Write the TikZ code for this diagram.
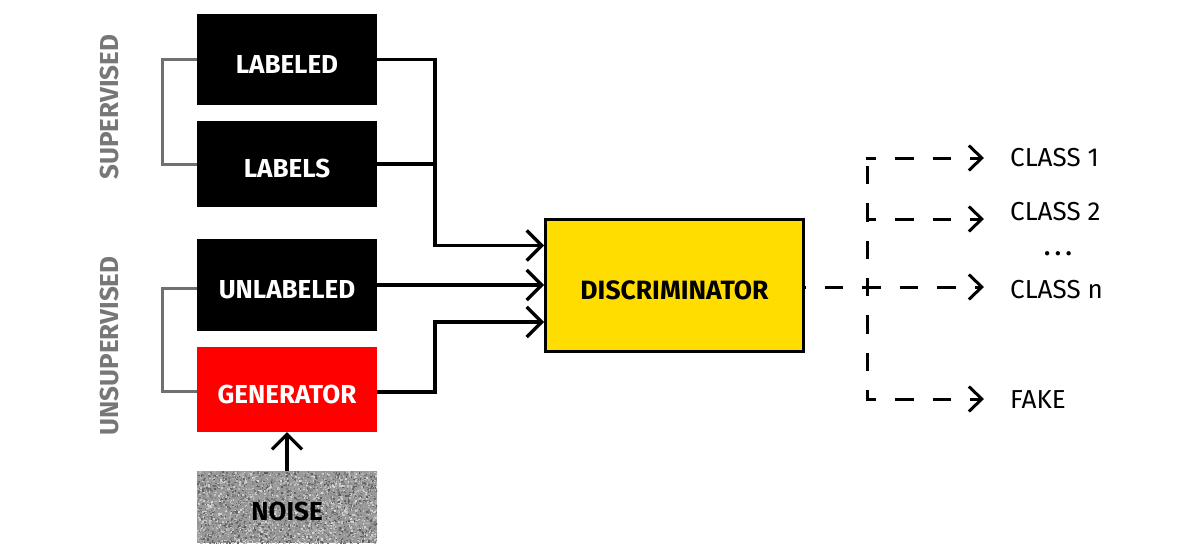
\documentclass[tikz,border=0pt]{standalone}
\usepackage{fontspec}
\setmainfont{Fira Sans}
\usetikzlibrary{arrows.meta}
\definecolor{discyellow}{HTML}{FFDD00}
\definecolor{genred}{HTML}{FF0000}
\definecolor{brackgray}{HTML}{707070}
\definecolor{labgray}{HTML}{777777}
\definecolor{noisegray}{HTML}{999999}
\begin{document}
\begin{tikzpicture}[x=1pt,y=-1pt,
  box/.style={minimum width=180pt,minimum height=#1,inner sep=0pt,text height=27pt,text depth=0pt,
              font=\bfseries\fontsize{26}{26}\selectfont},
  box/.default=91pt,
  conn/.style={line width=3.2pt},
  arr/.style={conn,-{Straight Barb[length=15pt,width=30pt,line width=3.2pt]}},
  bracket/.style={line width=3pt,draw=brackgray},
  dline/.style={line width=3pt,dash pattern=on 18.5pt off 19pt},
  darr/.style={dline,-{Straight Barb[length=13pt,width=25pt,line width=3pt]}},
  outtext/.style={anchor=west,inner sep=0pt,font=\fontsize{26}{26}\selectfont},
  sidetext/.style={rotate=90,text=labgray,font=\bfseries\fontsize{26}{26}\selectfont}
]
\useasboundingbox (0,0) rectangle (1200,557);

% input boxes
\node[box=91pt,fill=black,text=white] (labeled) at (287,59.5) {LABELED};
\node[box=86pt,fill=black,text=white] (labels) at (287,164) {LABELS};
\node[box=92pt,fill=black,text=white] (unlabeled) at (287,285) {UNLABELED};
\node[box=85pt,fill=genred,text=white] (generator) at (287,389.5) {GENERATOR};
\node[box=72pt,fill=noisegray] (noise) at (287,507) {};
\begin{scope}
  \clip (noise.south west) rectangle (noise.north east);
  \pgfmathsetseed{42}
  \foreach \i in {1,...,3600}{
    \pgfmathsetmacro\px{197+180*rnd}
    \pgfmathsetmacro\py{471+72*rnd}
    \pgfmathsetmacro\g{15+50*rnd}
    \fill[black!\g] (\px,\py) rectangle ++(1.6,1.6);
  }
\end{scope}
\node[box=72pt,text=black] (noiselabel) at (noise) {NOISE};

% discriminator
\node[minimum width=258pt,minimum height=132pt,inner sep=0pt,fill=discyellow,draw=black,line width=3pt,
      text height=27pt,text depth=0pt,
      font=\bfseries\fontsize{26.5}{26.5}\selectfont] (disc) at (674.5,285.5) {DISCRIMINATOR};

% side labels
\node[sidetext] (sup) at (109,107) {SUPERVISED};
\node[sidetext] (unsup) at (109,346) {UNSUPERVISED};

% brackets
\draw[bracket] (labeled.west) -- ++(-34,0) |- (labels.west);
\draw[bracket] ([yshift=-3pt]unlabeled.west) -- ++(-34,0) |- ([yshift=-1.5pt]generator.west);

% connectors into discriminator
\coordinate (j1) at (435,245.5);
\coordinate (j2) at (435,322);
\draw[conn] (labels.east) -| (j1);
\draw[arr] (labeled.east) -| (j1) -- ([yshift=40pt]disc.west);
\draw[arr] (unlabeled.east) -- (unlabeled.east -| disc.west);
\draw[arr] ([yshift=-2.5pt]generator.east) -| (j2) -- (j2 -| disc.west);
\draw[arr] (noise.north) -- (generator.south);

% outputs
\node[outtext] (c1) at (1010,158) {CLASS 1};
\node[outtext] (c2) at (1010,212) {CLASS 2};
\node[outtext] (cn) at (1010,290) {CLASS n};
\node[outtext] (fake) at (1010,400) {FAKE};
\node[font=\bfseries\fontsize{24}{24}\selectfont,inner sep=0pt] (dots) at (1058,254) {.\kern5pt.\kern5pt.};

\coordinate (split) at (867,287);
\coordinate (vtop) at (867,158);
\coordinate (v2) at (867,219);
\coordinate (vbot) at (867,399);
\draw[dline,dash phase=9.5pt] (split) -- (vtop);
\draw[dline,dash phase=9.5pt] (split) -- (vbot);
\draw[darr,dash phase=18pt] (disc.east |- split) -- ([xshift=-26pt]cn.west |- split);
\draw[darr,dash phase=8pt] ([xshift=-1.5pt]vtop) -- ([xshift=-26pt]c1.west |- vtop);
\draw[darr,dash phase=8pt] ([xshift=-1.5pt]v2) -- ([xshift=-26pt]c2.west |- v2);
\draw[darr,dash phase=8pt] ([xshift=-1.5pt]vbot) -- ([xshift=-26pt]fake.west |- vbot);
\end{tikzpicture}
\end{document}
